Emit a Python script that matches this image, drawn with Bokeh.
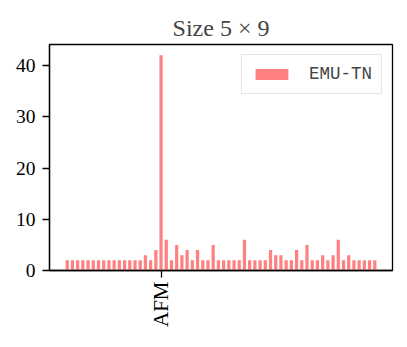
import math
from bokeh.plotting import figure
from bokeh.models import Range1d, FixedTicker
from bokeh.embed import file_html
from bokeh.resources import INLINE

title_text = "Size 5 × 9"
series_name = "EMU-TN"
values = [2, 2, 2, 2, 2, 2, 2, 2, 2, 2, 2, 2, 2, 2, 2, 3, 2, 4, 42, 6,
          2, 5, 3, 4, 2, 4, 2, 2, 5, 2, 2, 2, 2, 2, 6, 2, 2, 2, 2, 4,
          3, 3, 2, 2, 4, 2, 5, 2, 2, 3, 2, 3, 6, 2, 3, 2, 2, 2, 2, 2]
positions = list(range(len(values)))
x_tick_positions = [18]
x_tick_labels = ["AFM"]
y_ticks = [0, 10, 20, 30, 40]

p = figure(width=399, height=339, output_backend="svg", toolbar_location=None,
           x_range=Range1d(-3.4, 62.4), y_range=Range1d(0, 44.1),
           min_border_left=49, min_border_right=7, min_border_top=44,
           min_border_bottom=69, title=title_text)

p.vbar(x=positions, top=values, width=0.62, bottom=0,
       fill_color="#ff8080", line_color=None, legend_label=series_name)

p.title.align = "center"
p.title.text_font = "Liberation Serif"
p.title.text_font_size = "24px"
p.title.text_font_style = "normal"
p.title.standoff = 8

p.xgrid.visible = False
p.ygrid.visible = False
p.outline_line_color = "black"
p.outline_line_width = 1.3
p.background_fill_color = "white"
p.border_fill_color = "white"

for ax in (p.xaxis, p.yaxis):
    ax.axis_line_width = 1.3
    ax.major_tick_line_width = 1.3
    ax.major_tick_out = 7
    ax.major_tick_in = 0
    ax.minor_tick_line_color = None
    ax.major_label_text_font = "Liberation Serif"
    ax.major_label_text_font_size = "19.5px"
    ax.major_label_text_color = "black"

p.xaxis.ticker = FixedTicker(ticks=x_tick_positions, minor_ticks=[])
p.xaxis.major_label_overrides = dict(zip(x_tick_positions, x_tick_labels))
p.xaxis.major_label_orientation = math.pi / 2
p.xaxis.major_label_text_font_size = "21px"
p.xaxis.major_label_standoff = 4
p.yaxis.ticker = FixedTicker(ticks=y_ticks, minor_ticks=[])
p.yaxis.major_label_standoff = 7

lg = p.legend[0]
lg.location = "top_right"
lg.margin = 10
lg.padding = 9
lg.spacing = 0
lg.label_standoff = 17
lg.glyph_width = 41
lg.glyph_height = 14
lg.label_height = 17
lg.border_line_color = "#cccccc"
lg.border_line_width = 1.5
lg.background_fill_alpha = 0.8
lg.label_text_font = "Liberation Mono"
lg.label_text_font_size = "17.5px"

open("out.html", "w").write(file_html(p, INLINE))
